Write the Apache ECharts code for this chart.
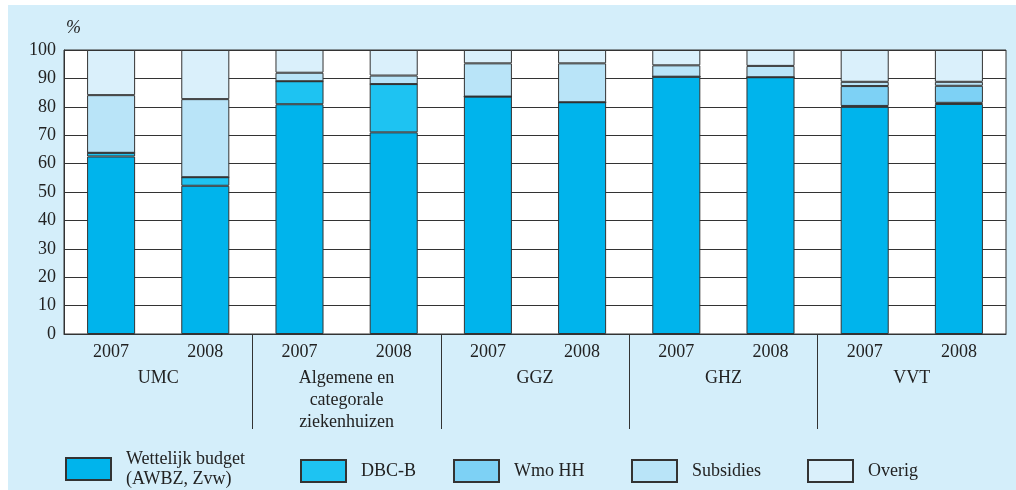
<!DOCTYPE html>
<html>
<head>
<meta charset="utf-8">
<script src="https://cdn.jsdelivr.net/npm/echarts@6/dist/echarts.min.js"></script>
<style>
  html, body { margin: 0; padding: 0; background: #fff; }
  #panel { position: absolute; left: 8px; top: 5px; width: 1008px; height: 485px; background: #d4eefa; }
  #chart { position: absolute; left: 0; top: 0; width: 1016px; height: 490px; }
</style>
</head>
<body>
<div id="panel"></div>
<div id="chart"></div>
<script>
// jaren per sector, sectoren
var years = ['2007', '2008', '2007', '2008', '2007', '2008', '2007', '2008', '2007', '2008']
var groups = ['UMC', 'Algemene en\ncategorale\nziekenhuizen', 'GGZ', 'GHZ', 'VVT']
// grenzen tussen de sectoren (in jaar-kolommen)
var groupBounds = [2, 4, 6, 8]

var wettelijk = [62.5, 52.2, 80.9, 71.0, 83.6, 81.6, 90.6, 90.4, 80.0, 81.0]
var dbcb      = [1.3, 3.0, 8.1, 17.0, 0, 0, 0, 0, 0.3, 0.4]
var wmo       = [0, 0, 0, 0, 0, 0, 0, 0, 7.0, 6.0]
var subsidies = [20.3, 27.5, 3.0, 3.0, 11.7, 13.7, 4.0, 4.0, 1.5, 1.4]
var overig    = [15.9, 17.3, 8.0, 9.0, 4.7, 4.7, 5.4, 5.6, 11.2, 11.2]

var names = ['Wettelijk budget (AWBZ, Zvw)', 'DBC-B', 'Wmo HH', 'Subsidies', 'Overig']
var colors = ['#00b4ec', '#1ec3f2', '#7dd1f5', '#b9e4f8', '#daf0fb']
var values = [wettelijk, dbcb, wmo, subsidies, overig]

var font = 'Liberation Serif'
var txt = '#222'

var chart = echarts.init(document.getElementById('chart'))

var legendLeft = [65, 300, 453, 631, 807]
var legendTop = [449, 459, 459, 459, 459]
var legends = names.map(function (n, i) {
  return {
    data: [n],
    left: legendLeft[i],
    top: legendTop[i],
    padding: 0,
    itemWidth: 45,
    itemHeight: 22,
    icon: 'rect',
    selectedMode: false,
    formatter: function (name) {
      return name === names[0] ? 'Wettelijk budget\n(AWBZ, Zvw)' : name
    },
    textStyle: { fontFamily: font, fontSize: 18, color: txt, lineHeight: 20, padding: [0, 0, 0, 10] }
  }
})

chart.setOption({
  animation: false,
  grid: {
    left: 64, right: 10, top: 50, bottom: 156,
    show: true, backgroundColor: '#fff', borderColor: '#333', borderWidth: 1
  },
  legend: legends,
  xAxis: [
    {
      type: 'category',
      data: years,
      position: 'bottom',
      axisLine: { lineStyle: { color: '#333', width: 1 } },
      axisTick: { show: false },
      axisLabel: { fontFamily: font, fontSize: 18, color: txt, margin: 9 }
    },
    {
      type: 'category',
      data: groups,
      position: 'bottom',
      axisLine: { show: false },
      axisTick: { show: false },
      axisLabel: { fontFamily: font, fontSize: 18, color: txt, margin: 33, lineHeight: 22 }
    },
    {
      // scheidingslijnen tussen de sectoren onder de as
      type: 'value',
      min: 0, max: years.length,
      position: 'bottom',
      axisLine: { show: false },
      axisLabel: { show: false },
      splitLine: { show: false },
      axisTick: {
        show: true,
        length: 95,
        customValues: groupBounds,
        lineStyle: { color: '#333', width: 1 }
      }
    }
  ],
  yAxis: {
    type: 'value',
    min: 0, max: 100, interval: 10,
    name: '%',
    nameLocation: 'end',
    nameGap: 13,
    nameTextStyle: { fontFamily: font, fontSize: 18, fontStyle: 'italic', color: txt, align: 'left', padding: [0, 0, 0, 2] },
    axisLine: { show: true, lineStyle: { color: '#333' } },
    axisTick: { show: false },
    axisLabel: { fontFamily: font, fontSize: 18, color: txt, margin: 8 },
    splitLine: { lineStyle: { color: '#333', width: 1 } }
  },
  series: names.map(function (n, i) {
    return {
      name: n,
      type: 'bar',
      stack: 'totaal',
      barWidth: '51%',
      data: values[i],
      itemStyle: { color: colors[i], borderColor: '#333', borderWidth: 1 }
    }
  })
})
</script>
</body>
</html>
